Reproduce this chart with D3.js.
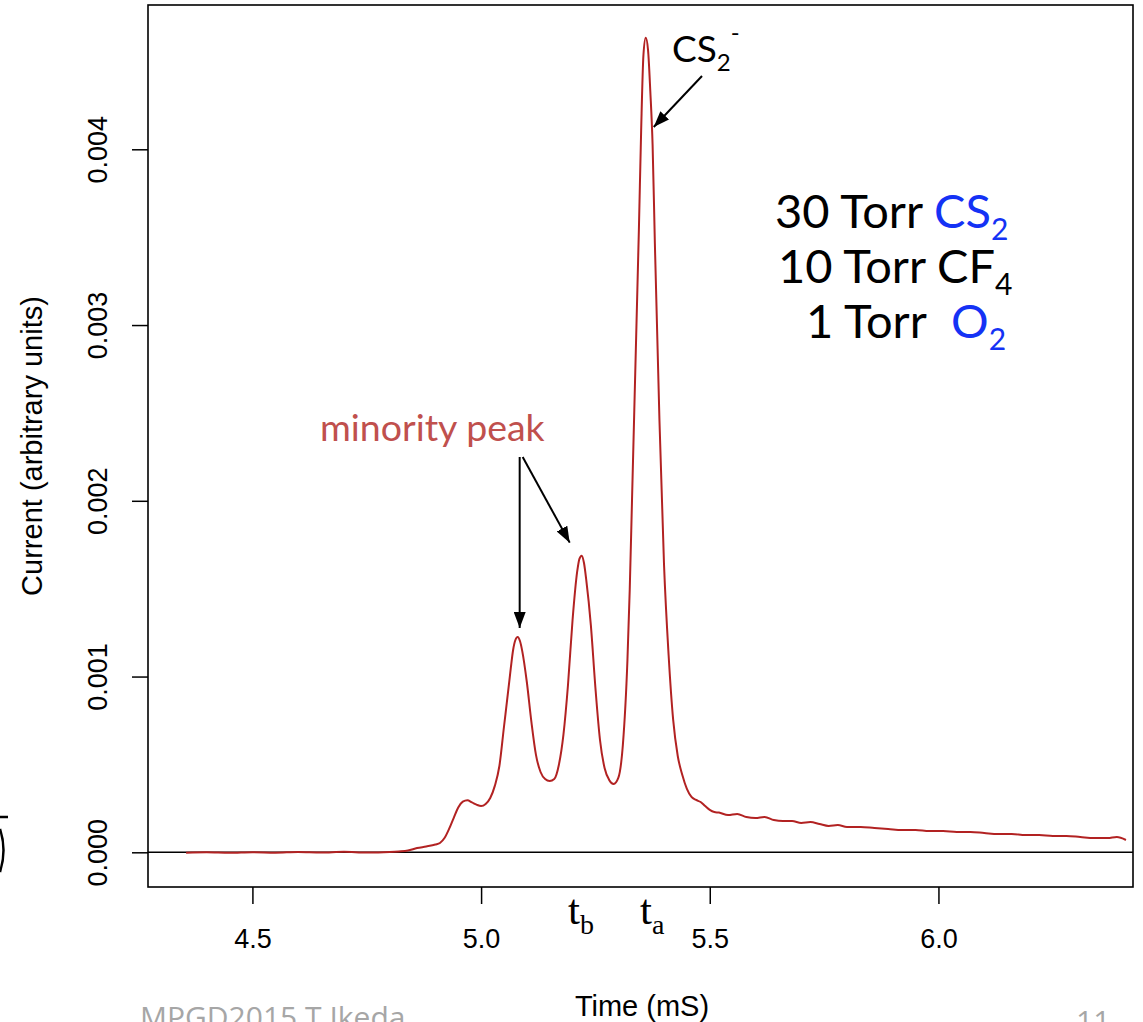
<!DOCTYPE html>
<html>
<head>
<meta charset="utf-8">
<script src="https://cdn.jsdelivr.net/npm/d3@7"></script>
<style>
  body { margin: 0; background: #fff; }
  svg { display: block; }
</style>
</head>
<body>
<svg id="chart" width="1143" height="1022"></svg>
<script>
// Drift-time waveform: time (mS) and collected current (arbitrary units)
const times = [
  4.355, 4.40, 4.45, 4.50, 4.55, 4.60, 4.65, 4.70, 4.75, 4.80,
  4.82, 4.84, 4.86, 4.88, 4.90, 4.91, 4.92, 4.93, 4.94, 4.95,
  4.96, 4.97, 4.98, 4.99, 5.00, 5.01, 5.02, 5.03, 5.04, 5.05,
  5.06, 5.065, 5.07, 5.075, 5.08, 5.085, 5.09, 5.10, 5.11, 5.12,
  5.13, 5.14, 5.15, 5.16, 5.17, 5.18, 5.19, 5.20, 5.21, 5.215,
  5.22, 5.225, 5.23, 5.24, 5.25, 5.26, 5.27, 5.28, 5.29, 5.30,
  5.31, 5.32, 5.325, 5.33, 5.335, 5.34, 5.345, 5.35, 5.355, 5.36,
  5.365, 5.37, 5.375, 5.38, 5.39, 5.40, 5.41, 5.42, 5.43, 5.44,
  5.45, 5.46, 5.47, 5.48, 5.49, 5.50, 5.51, 5.52, 5.54, 5.56,
  5.58, 5.60, 5.62, 5.64, 5.66, 5.68, 5.70, 5.72, 5.74, 5.76,
  5.78, 5.80, 5.83, 5.86, 5.89, 5.92, 5.95, 5.98, 6.01, 6.04,
  6.07, 6.10, 6.13, 6.16, 6.19, 6.22, 6.25, 6.28, 6.31, 6.34,
  6.37, 6.39, 6.41
];
const current = [
  -0.000002, 0.000000, -0.000003, 0.000001, -0.000002, 0.000002, -0.000001, 0.000003, -0.000001, 0.000002,
  0.000005, 0.000010, 0.000024, 0.000033, 0.000044, 0.000053, 0.000081, 0.000133, 0.000195, 0.000255,
  0.000288, 0.000296, 0.000284, 0.000271, 0.000263, 0.000275, 0.000309, 0.000378, 0.000491, 0.000713,
  0.000935, 0.001049, 0.001151, 0.001208, 0.001225, 0.001202, 0.001145, 0.000969, 0.000742, 0.000554,
  0.000457, 0.000417, 0.000406, 0.000417, 0.000497, 0.000668, 0.000952, 0.001322, 0.001595, 0.001670,
  0.001688, 0.001646, 0.001549, 0.001293, 0.000935, 0.000639, 0.000480, 0.000412, 0.000389, 0.000423,
  0.000611, 0.001094, 0.001493, 0.002005, 0.002517, 0.003029, 0.003541, 0.004110, 0.004537, 0.004634,
  0.004566, 0.004330, 0.004025, 0.003461, 0.002457, 0.001635, 0.001123, 0.000753, 0.000548, 0.000440,
  0.000361, 0.000315, 0.000298, 0.000286, 0.000263, 0.000241, 0.000229, 0.000226, 0.000212, 0.000218,
  0.000201, 0.000195, 0.000201, 0.000184, 0.000178, 0.000178, 0.000167, 0.000172, 0.000161, 0.000150,
  0.000155, 0.000144, 0.000144, 0.000138, 0.000133, 0.000127, 0.000127, 0.000121, 0.000121, 0.000116,
  0.000116, 0.000110, 0.000104, 0.000104, 0.000098, 0.000098, 0.000093, 0.000093, 0.000087, 0.000081,
  0.000081, 0.000087, 0.000070
];
const xTicks = [4.5, 5.0, 5.5, 6.0];
const yTicks = [0.000, 0.001, 0.002, 0.003, 0.004];
const xDomain = [4.2717, 6.4254];
const yDomain = [-0.0001974, 0.004821];

const svg = d3.select("#chart");
const W = 1143, H = 1022;
const plot = { left: 148, right: 1133, top: 5, bottom: 887 };
const axisFont = "'Liberation Sans', Arial, sans-serif";
const noteFont = "Lato, 'Noto Sans', sans-serif";

svg.append("rect").attr("width", W).attr("height", H).attr("fill", "#fff");

const x = d3.scaleLinear().domain(xDomain).range([plot.left, plot.right]);
const y = d3.scaleLinear().domain(yDomain).range([plot.bottom, plot.top]);

// arrowhead marker
svg.append("defs").append("marker")
  .attr("id", "arrow")
  .attr("viewBox", "0 0 16 12")
  .attr("refX", 16).attr("refY", 6)
  .attr("markerWidth", 16).attr("markerHeight", 12)
  .attr("markerUnits", "userSpaceOnUse")
  .attr("orient", "auto")
  .append("path").attr("d", "M0,0 L16,6 L0,12 Z").attr("fill", "#000");

// zero line
svg.append("line")
  .attr("x1", plot.left).attr("x2", plot.right)
  .attr("y1", y(0)).attr("y2", y(0))
  .attr("stroke", "#000").attr("stroke-width", 1.5);

// waveform
const pts = times.map((t, i) => [t, current[i]]);
svg.append("path")
  .datum(pts)
  .attr("fill", "none")
  .attr("stroke", "#b22222")
  .attr("stroke-width", 2)
  .attr("stroke-linejoin", "round")
  .attr("d", d3.line().x(d => x(d[0])).y(d => y(d[1])).curve(d3.curveMonotoneX));

// frame
svg.append("rect")
  .attr("x", plot.left).attr("y", plot.top)
  .attr("width", plot.right - plot.left).attr("height", plot.bottom - plot.top)
  .attr("fill", "none").attr("stroke", "#000").attr("stroke-width", 1.6);

// bottom axis
const gx = svg.append("g")
  .attr("transform", `translate(0,${plot.bottom})`)
  .call(d3.axisBottom(x).tickValues(xTicks).tickSize(17).tickFormat(d3.format(".1f")));
gx.select(".domain").remove();
gx.selectAll(".tick line").attr("stroke", "#000").attr("stroke-width", 1.5);
gx.selectAll(".tick text")
  .attr("y", 61).attr("dy", 0)
  .attr("font-family", axisFont).attr("font-size", 27).attr("fill", "#000");

// left axis with rotated labels
const gy = svg.append("g")
  .attr("transform", `translate(${plot.left},0)`)
  .call(d3.axisLeft(y).tickValues(yTicks).tickSize(16).tickFormat(d3.format(".3f")));
gy.select(".domain").remove();
gy.selectAll(".tick line").attr("stroke", "#000").attr("stroke-width", 1.5);
gy.selectAll(".tick text")
  .attr("x", 0).attr("y", 0).attr("dy", "0.35em")
  .attr("transform", "translate(-50,0) rotate(-90)")
  .attr("text-anchor", "middle")
  .attr("font-family", axisFont).attr("font-size", 27).attr("fill", "#000");

// axis titles
svg.append("text")
  .attr("transform", "translate(42,446) rotate(-90)")
  .attr("text-anchor", "middle")
  .attr("font-family", axisFont).attr("font-size", 29)
  .text("Current (arbitrary units)");
svg.append("text")
  .attr("x", 642).attr("y", 1016)
  .attr("text-anchor", "middle")
  .attr("font-family", axisFont).attr("font-size", 29)
  .text("Time (mS)");

// gas mixture
const blue = "#1432f5";
const mix = svg.append("g").attr("font-family", noteFont).attr("font-size", 47).attr("fill", "#000");
const l1 = mix.append("text").attr("x", 775).attr("y", 228);
l1.append("tspan").text("30 Torr ");
l1.append("tspan").attr("fill", blue).text("CS");
l1.append("tspan").attr("fill", blue).attr("font-size", 30).attr("dy", 12).text("2");
const l2 = mix.append("text").attr("x", 778).attr("y", 283);
l2.append("tspan").text("10 Torr CF");
l2.append("tspan").attr("font-size", 30).attr("dy", 12).text("4");
const l3 = mix.append("text").attr("x", 806).attr("y", 338);
l3.append("tspan").text("1 Torr");
l3.append("tspan").attr("x", 951).attr("fill", blue).text("O");
l3.append("tspan").attr("fill", blue).attr("font-size", 30).attr("dy", 12).text("2");

// main peak label
const peakIdx = d3.maxIndex(current);
const cs = svg.append("text").attr("x", 672).attr("y", 62)
  .attr("font-family", noteFont).attr("font-size", 37).attr("fill", "#000");
cs.append("tspan").text("CS");
cs.append("tspan").attr("font-size", 24).attr("dy", 9).text("2");
cs.append("tspan").attr("font-size", 24).attr("dy", -30).text("-");
svg.append("line")
  .attr("x1", 702).attr("y1", 76)
  .attr("x2", x(times[peakIdx]) + 8).attr("y2", 127)
  .attr("stroke", "#000").attr("stroke-width", 2)
  .attr("marker-end", "url(#arrow)");

// minority peaks
svg.append("text").attr("x", 320).attr("y", 441)
  .attr("font-family", noteFont).attr("font-size", 37.5).attr("fill", "#c0504d")
  .text("minority peak");
const p1 = d3.maxIndex(current.map((v, i) => times[i] < 5.14 ? v : -1));
const p2 = d3.maxIndex(current.map((v, i) => times[i] > 5.14 && times[i] < 5.29 ? v : -1));
svg.append("line")
  .attr("x1", x(times[p1]) + 2).attr("y1", 457)
  .attr("x2", x(times[p1]) + 2).attr("y2", y(current[p1]) - 9)
  .attr("stroke", "#000").attr("stroke-width", 2)
  .attr("marker-end", "url(#arrow)");
svg.append("line")
  .attr("x1", x(times[p1]) + 5).attr("y1", 457)
  .attr("x2", x(times[p2]) - 12).attr("y2", y(current[p2]) - 13)
  .attr("stroke", "#000").attr("stroke-width", 2)
  .attr("marker-end", "url(#arrow)");

// arrival-time marks
const serif = "'Liberation Serif', 'DejaVu Serif', serif";
const tb = svg.append("text").attr("x", 568).attr("y", 924)
  .attr("font-family", serif).attr("font-size", 43);
tb.append("tspan").text("t");
tb.append("tspan").attr("font-size", 28).attr("dy", 10).text("b");
const ta = svg.append("text").attr("x", 640).attr("y", 924)
  .attr("font-family", serif).attr("font-size", 43);
ta.append("tspan").text("t");
ta.append("tspan").attr("font-size", 28).attr("dy", 10).text("a");

// slide footer
svg.append("text").attr("x", 140).attr("y", 1028)
  .attr("font-family", "'Open Sans', sans-serif").attr("font-size", 30).attr("fill", "#a6a6a6")
  .text("MPGD2015 T.Ikeda");
svg.append("text").attr("x", 1076).attr("y", 1032)
  .attr("font-family", "'Open Sans', sans-serif").attr("font-size", 30).attr("fill", "#a6a6a6")
  .text("11");

// edge fragment of adjacent slide graphic
svg.append("path").attr("d", "M0,817 H8 M0,829 Q7,850 0,872")
  .attr("fill", "none").attr("stroke", "#000").attr("stroke-width", 2.5);
</script>
</body>
</html>
